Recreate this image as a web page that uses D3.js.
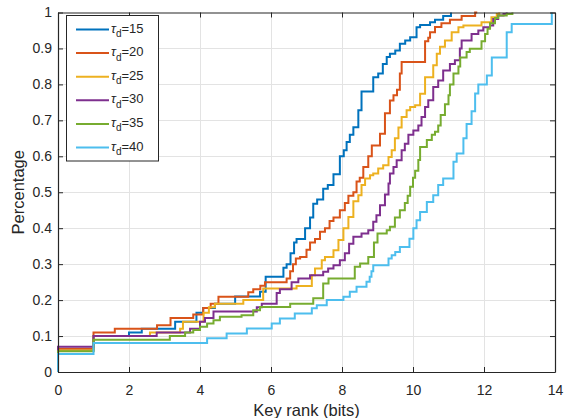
<!DOCTYPE html>
<html><head><meta charset="utf-8">
<script src="https://cdn.jsdelivr.net/npm/d3@7/dist/d3.min.js"></script>
<style>
body{margin:0;background:#fff}
svg{display:block}
text{font-family:"Liberation Sans",Arial,Helvetica,sans-serif;fill:#262626}
</style>
</head><body>
<svg id="chart" width="564" height="418"></svg>
<script>
// ---- data ----
const seriesNames = ["15","20","25","30","35","40"];
const seriesColors = ["#0072BD","#D95319","#EDB120","#7E2F8E","#77AC30","#4DBEEE"];
const xTicks = [0,2,4,6,8,10,12,14];
const yTicks = [0,0.1,0.2,0.3,0.4,0.5,0.6,0.7,0.8,0.9,1];
const yTickLabels = ["0","0.1","0.2","0.3","0.4","0.5","0.6","0.7","0.8","0.9","1"];

// step breakpoints: key rank (bits) where the ECDF jumps, and the level after the jump
const x15 = [0,0,1,2,2.36,3.3,3.9,4.09,4.42,4.99,5.69,5.85,6.35,6.44,6.55,6.65,6.72,6.96,7.1,7.19,7.3,7.47,7.6,7.76,7.94,8.05,8.13,8.22,8.32,8.46,8.55,8.88,9.02,9.15,9.26,9.35,9.5,9.63,9.78,9.92,10.1,10.2,10.48,10.62,10.85,11.07];
const y15 = [0,0.06,0.10,0.11,0.12,0.14,0.165,0.178,0.19,0.21,0.223,0.265,0.29,0.30,0.33,0.36,0.37,0.40,0.43,0.468,0.48,0.51,0.52,0.55,0.60,0.617,0.64,0.66,0.681,0.728,0.78,0.82,0.83,0.857,0.876,0.885,0.894,0.913,0.922,0.931,0.959,0.965,0.973,0.98,0.99,1.0];

const x20 = [0,0,1,1.6,2.79,3.17,3.81,4.09,4.3,4.52,5.36,5.5,5.7,5.83,6.44,6.54,6.62,6.7,6.82,7.0,7.1,7.24,7.38,7.52,7.65,7.76,7.94,8.08,8.18,8.32,8.41,8.5,8.6,8.74,8.84,9.07,9.21,9.35,9.45,9.55,9.63,9.68,10.34,10.43,10.48,10.62,10.8,11.04,11.37,11.75,11.81];
const y20 = [0,0.065,0.11,0.12,0.13,0.15,0.16,0.178,0.19,0.209,0.222,0.23,0.24,0.25,0.26,0.28,0.30,0.316,0.32,0.34,0.36,0.37,0.39,0.40,0.42,0.43,0.45,0.47,0.49,0.50,0.53,0.54,0.57,0.60,0.63,0.663,0.72,0.755,0.77,0.785,0.83,0.862,0.92,0.93,0.945,0.96,0.97,0.98,0.99,1.0];

const x25 = [0,0,1,2.59,3.44,3.52,4.1,4.25,4.42,5.22,5.78,6.72,7.15,7.24,7.43,7.52,7.76,7.9,8.04,8.18,8.32,8.46,8.55,8.65,8.79,8.88,9.02,9.16,9.31,9.4,9.49,9.59,9.68,9.82,9.92,10.06,10.2,10.34,10.57,10.67,10.76,10.9,11.09,11.28,11.42,11.93,12.21,12.36,12.43];
const y25 = [0,0.06,0.10,0.11,0.12,0.14,0.165,0.18,0.19,0.20,0.232,0.239,0.269,0.288,0.311,0.32,0.339,0.367,0.40,0.431,0.475,0.492,0.52,0.538,0.547,0.552,0.566,0.575,0.598,0.617,0.65,0.68,0.709,0.728,0.737,0.742,0.774,0.82,0.853,0.885,0.905,0.922,0.945,0.959,0.964,0.973,0.987,0.996,1.0];

const x30 = [0,0,1,2.78,3.72,4.0,4.14,4.38,5.6,5.74,6.16,6.25,6.58,6.77,7.1,7.47,7.61,7.76,7.94,8.08,8.2,8.32,8.55,8.74,8.88,8.97,9.07,9.21,9.31,9.35,9.45,9.54,9.68,9.77,9.87,10.01,10.15,10.24,10.34,10.43,10.57,10.71,10.85,11.04,11.18,11.32,11.37,11.65,11.84,11.98,12.17,12.26,12.4,12.55,12.64];
const y30 = [0,0.07,0.10,0.11,0.12,0.14,0.15,0.168,0.18,0.19,0.22,0.23,0.25,0.26,0.269,0.279,0.288,0.297,0.311,0.33,0.357,0.376,0.385,0.394,0.418,0.436,0.464,0.494,0.524,0.552,0.57,0.589,0.617,0.635,0.66,0.672,0.686,0.709,0.737,0.756,0.793,0.811,0.839,0.857,0.867,0.90,0.922,0.94,0.95,0.959,0.964,0.982,0.992,0.996,1.0];

const x35 = [0,0,1,3.15,3.58,3.81,4.0,4.2,4.38,4.56,5.17,5.5,5.69,6.54,7.19,7.47,7.62,8.36,8.51,8.74,8.9,9.0,9.26,9.35,9.49,9.63,9.77,9.85,9.92,10.0,10.06,10.15,10.2,10.39,10.53,10.62,10.71,10.78,10.9,11.0,11.04,11.14,11.28,11.33,11.51,11.6,11.93,12.03,12.1,12.17,12.31,12.4,12.64,12.8];
const y35 = [0,0.058,0.09,0.10,0.11,0.117,0.126,0.135,0.144,0.154,0.158,0.172,0.181,0.19,0.205,0.246,0.26,0.293,0.302,0.32,0.36,0.385,0.394,0.404,0.43,0.45,0.47,0.49,0.515,0.54,0.56,0.59,0.626,0.645,0.66,0.668,0.686,0.715,0.745,0.77,0.80,0.83,0.85,0.875,0.89,0.899,0.92,0.94,0.955,0.97,0.985,0.992,0.996,1.0];

const x40 = [0,0,1,4.2,4.75,5.32,6.02,6.25,6.67,7.15,7.29,7.57,8.04,8.22,8.41,8.69,8.78,8.83,8.88,9.31,9.4,9.5,9.63,9.9,10.01,10.1,10.2,10.39,10.57,10.71,10.85,11.14,11.23,11.42,11.51,11.65,11.75,11.84,12.08,12.22,12.64,12.78,13.91];
const y40 = [0,0.05,0.081,0.094,0.107,0.121,0.135,0.149,0.163,0.177,0.186,0.2,0.209,0.223,0.237,0.251,0.265,0.28,0.297,0.316,0.325,0.334,0.348,0.371,0.40,0.422,0.445,0.473,0.492,0.52,0.538,0.585,0.608,0.65,0.69,0.725,0.775,0.80,0.825,0.875,0.945,0.968,1.0];

const seriesX = [x15,x20,x25,x30,x35,x40];
const seriesY = [y15,y20,y25,y30,y35,y40];

// ---- layout ----
const W = 564, H = 418;
const L = 58, R = 555, T = 12.5, B = 372;
const svg = d3.select("#chart");
const x = d3.scaleLinear().domain([0,14]).range([L,R]);
const y = d3.scaleLinear().domain([0,1]).range([B,T]);
const axisColor = "#262626";

// grid
const g = svg.append("g");
g.selectAll("line.gx").data(xTicks.slice(1,-1)).join("line")
  .attr("x1",d=>Math.round(x(d))+0.5).attr("x2",d=>Math.round(x(d))+0.5)
  .attr("y1",T).attr("y2",B).attr("stroke","#e3e3e3").attr("stroke-width",1);
g.selectAll("line.gy").data(yTicks.slice(1,-1)).join("line")
  .attr("y1",d=>Math.round(y(d))+0.5).attr("y2",d=>Math.round(y(d))+0.5)
  .attr("x1",L).attr("x2",R).attr("stroke","#e3e3e3").attr("stroke-width",1);

// series
const line = d3.line().x(d=>x(d[0])).y(d=>y(d[1])).curve(d3.curveStepAfter);
seriesX.forEach((xs,i)=>{
  const pts = xs.map((v,j)=>[v, seriesY[i][j]]);
  svg.append("path").datum(pts).attr("d",line)
    .attr("fill","none").attr("stroke",seriesColors[i]).attr("stroke-width",2)
    .attr("stroke-linejoin","miter");
});

// axes (box with inward ticks)
const fmtY = (d,i)=>yTickLabels[i];
const axB = svg.append("g").attr("transform",`translate(0,${B})`)
  .call(d3.axisBottom(x).tickValues(xTicks).tickSize(-5).tickPadding(13).tickSizeOuter(0).tickFormat(d3.format("d")));
const axT = svg.append("g").attr("transform",`translate(0,${T})`)
  .call(d3.axisTop(x).tickValues(xTicks).tickSize(-5).tickSizeOuter(0).tickFormat(""));
const axL = svg.append("g").attr("transform",`translate(${L},0)`)
  .call(d3.axisLeft(y).tickValues(yTicks).tickSize(-5).tickPadding(6).tickSizeOuter(0).tickFormat(fmtY));
const axR = svg.append("g").attr("transform",`translate(${R},0)`)
  .call(d3.axisRight(y).tickValues(yTicks).tickSize(-5).tickSizeOuter(0).tickFormat(""));
[axB,axT,axL,axR].forEach(a=>{
  a.select(".domain").attr("stroke",axisColor).attr("stroke-width",1.2);
  a.selectAll(".tick line").attr("stroke",axisColor).attr("stroke-width",1);
  a.selectAll(".tick text").attr("fill",axisColor).style("font-size","14px")
    .style("font-family",'"Liberation Sans",Arial,sans-serif');
});

// axis titles
svg.append("text").attr("x",(L+R)/2).attr("y",416).attr("text-anchor","middle")
  .style("font-size","16.5px").text("Key rank (bits)");
svg.append("text").attr("transform",`translate(24,${(T+B)/2}) rotate(-90)`)
  .attr("text-anchor","middle").style("font-size","16.5px").text("Percentage");

// legend
const lg = svg.append("g");
lg.append("rect").attr("x",66.5).attr("y",15.5).attr("width",92).attr("height",145.5)
  .attr("fill","#fff").attr("stroke",axisColor).attr("stroke-width",1);
seriesNames.forEach((n,i)=>{
  const cy = 29.5 + i*23.6;
  lg.append("line").attr("x1",76).attr("x2",109).attr("y1",cy).attr("y2",cy)
    .attr("stroke",seriesColors[i]).attr("stroke-width",2);
  const t = lg.append("text").attr("x",111).attr("y",cy+3).style("font-size","13px");
  t.append("tspan").style("font-style","italic").text("\u03C4");
  t.append("tspan").attr("dy",4.5).style("font-size","10px").text("d");
  t.append("tspan").attr("dy",-4.5).text("=" + n);
});
</script>
</body></html>
